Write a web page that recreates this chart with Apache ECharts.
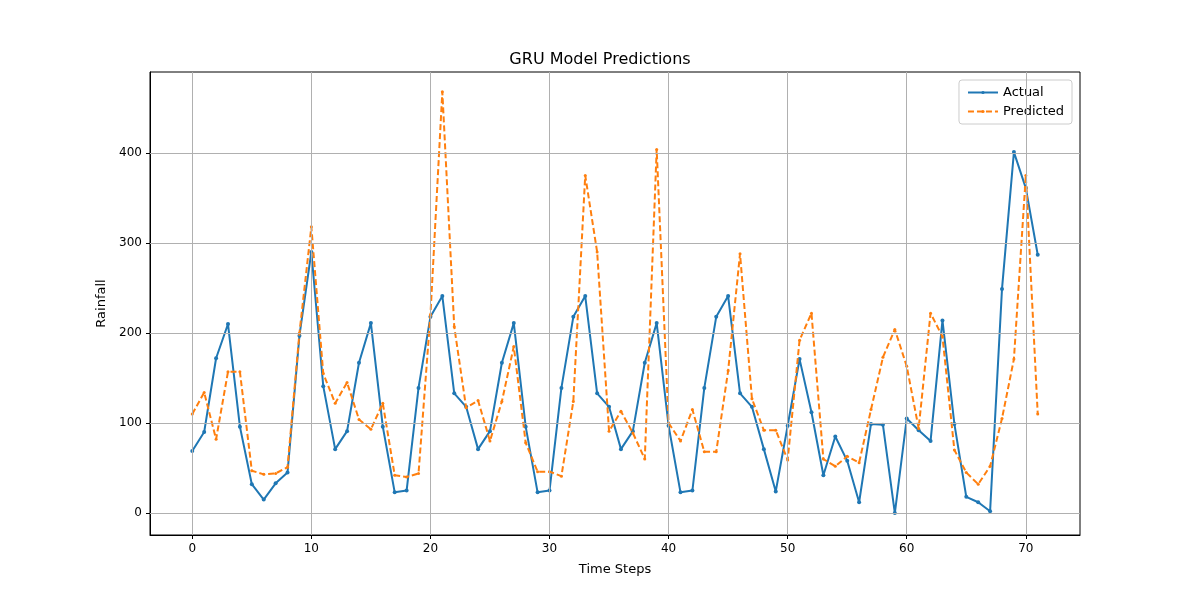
<!DOCTYPE html>
<html>
<head>
<meta charset="utf-8">
<script src="https://cdn.jsdelivr.net/npm/echarts@6/dist/echarts.min.js"></script>
<style>html,body{margin:0;padding:0;background:#fff}#chart{width:1200px;height:600px}</style>
</head>
<body>
<div id="chart"></div>
<script>
// Rainfall values
var actual = [69, 90, 172, 210, 96, 32, 15, 33, 45, 197, 290, 141, 71, 91, 167, 211, 96, 23, 25, 139,
    218, 241, 133, 118, 71, 91, 167, 211, 96, 23, 25, 139, 218, 241, 133, 118, 71, 91, 167, 211,
    97, 23, 25, 139, 218, 241, 133, 118, 71, 24, 97, 171, 112, 42, 85, 58, 12, 99, 98, 0,
    105, 92, 80, 214, 99, 18, 12, 2, 249, 401, 361, 287];
var predicted = [110, 134, 82, 157, 157, 47, 43, 44, 51, 200, 318, 155, 122, 145, 104, 93, 122, 42, 40, 44,
    220, 468, 207, 117, 125, 80, 124, 185, 78, 46, 46, 41, 124, 375, 290, 91, 113, 89, 60, 404,
    100, 80, 115, 68, 68, 158, 288, 127, 92, 92, 59, 192, 222, 60, 52, 63, 56, 115, 173, 204,
    163, 94, 222, 196, 70, 45, 32, 52, 105, 171, 375, 110];
var xTicks = [0, 10, 20, 30, 40, 50, 60, 70];
var yTicks = [0, 100, 200, 300, 400];

function pairs(arr) {
    return arr.map(function (v, i) { return [i, v]; });
}

var chart = echarts.init(document.getElementById('chart'));
var font = 'DejaVu Sans, sans-serif';
chart.setOption({
    animation: false,
    textStyle: { fontFamily: font },
    title: {
        text: 'GRU Model Predictions', left: 'center', top: 47,
        textStyle: { fontSize: 16, fontWeight: 'normal', color: '#000', fontFamily: font }
    },
    legend: {
        right: 128, top: 80, orient: 'vertical', itemGap: 6,
        borderColor: '#ccc', borderWidth: 1, borderRadius: 3, padding: [6, 8],
        itemWidth: 30, itemHeight: 4,
        textStyle: { fontSize: 13, color: '#000' },
        data: ['Actual', 'Predicted']
    },
    grid: { left: 150, right: 120, top: 72, bottom: 65, show: true, borderColor: '#000', borderWidth: 1 },
    xAxis: {
        type: 'value', min: -3.55, max: 74.55,
        name: 'Time Steps', nameLocation: 'middle', nameGap: 28,
        nameTextStyle: { fontSize: 13, color: '#000' },
        axisLine: { onZero: false, lineStyle: { color: '#000' } },
        axisTick: { show: true, length: 4, customValues: xTicks, lineStyle: { color: '#000' } },
        axisLabel: { color: '#000', fontSize: 12, margin: 8, customValues: xTicks },
        splitLine: { show: false }
    },
    yAxis: {
        type: 'value', min: -24.4, max: 490,
        name: 'Rainfall', nameLocation: 'middle', nameGap: 38,
        nameTextStyle: { fontSize: 13, color: '#000' },
        axisLine: { show: true, onZero: false, lineStyle: { color: '#000' } },
        axisTick: { show: true, length: 4, customValues: yTicks, lineStyle: { color: '#000' } },
        axisLabel: { color: '#000', fontSize: 12, margin: 8, customValues: yTicks },
        splitLine: { show: false }
    },
    series: [
        {
            name: 'Actual', type: 'line', data: pairs(actual),
            symbol: 'circle', symbolSize: 4,
            lineStyle: { color: '#1f77b4', width: 2 },
            itemStyle: { color: '#1f77b4' }, z: 3
        },
        {
            name: 'Predicted', type: 'line', data: pairs(predicted),
            symbol: 'circle', symbolSize: 3,
            lineStyle: { color: '#ff7f0e', width: 2, type: [6, 3] },
            itemStyle: { color: '#ff7f0e' }, z: 4
        },
        {
            // grid lines at the tick positions
            type: 'line', data: [], silent: true, z: 1,
            markLine: {
                silent: true, symbol: 'none', label: { show: false },
                lineStyle: { color: '#b0b0b0', width: 1, type: 'solid' },
                data: xTicks.map(function (t) { return { xAxis: t }; })
                    .concat(yTicks.map(function (t) { return { yAxis: t }; }))
            }
        }
    ]
});
</script>
</body>
</html>
